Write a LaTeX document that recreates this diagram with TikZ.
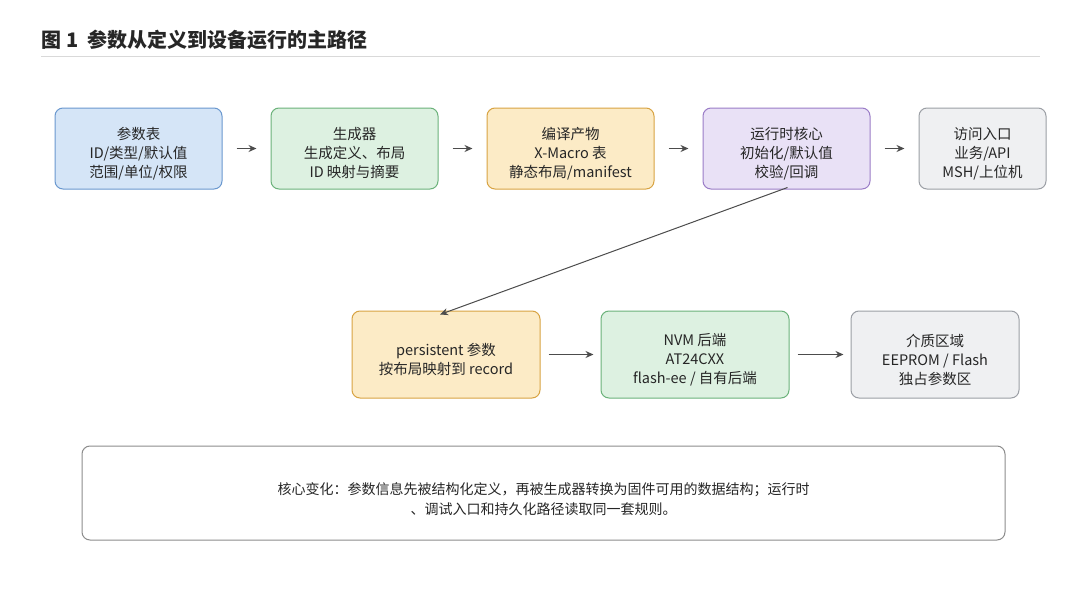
\documentclass[tikz,border=0pt]{standalone}
\usepackage{fontspec}
\setmainfont{Noto Sans CJK SC}
\usetikzlibrary{arrows.meta}
\definecolor{bF}{HTML}{D5E5F7}\definecolor{bD}{HTML}{6A98CF}
\definecolor{gF}{HTML}{DDF1E1}\definecolor{gD}{HTML}{6BB27A}
\definecolor{yF}{HTML}{FCEBC6}\definecolor{yD}{HTML}{D8A342}
\definecolor{pF}{HTML}{E9E1F6}\definecolor{pD}{HTML}{9A7CC7}
\definecolor{kF}{HTML}{EFF0F2}\definecolor{kD}{HTML}{9B9FA5}
\begin{document}
\begin{tikzpicture}[x=1pt,y=-1pt,
 box/.style={draw,rounded corners=8pt,line width=1pt,align=center,font=\fontsize{14.5}{19}\selectfont,text=black!85,inner sep=0pt},
 arr/.style={-{Stealth[length=8pt,width=7pt]},line width=1.1pt,draw=black!70}]
\useasboundingbox (0,0) rectangle (1080,608);
\fill[white] (0,0) rectangle (1080,608);
\node[anchor=west,font=\fontsize{20}{22}\selectfont\bfseries,text=black!85] (title) at (38,40) {图 1\ \ 参数从定义到设备运行的主路径};
\draw[black!15,line width=0.8pt] (41,56) -- (1040,56);
\def\bx#1#2#3#4#5#6#7#8{\node[box,fill=#7,draw=#8,minimum width=#4pt,minimum height=#5pt] (#1) at (#2,#3) {};
\node[align=center,font=\fontsize{14.5}{19}\selectfont,text=black!85] at (#2,#3+5) {#6};}
\bx{a}{138.5}{148.5}{167}{81}{参数表\\ID/类型/默认值\\范围/单位/权限}{bF}{bD}
\bx{b}{354.5}{148.5}{167}{81}{生成器\\生成定义、布局\\ID 映射与摘要}{gF}{gD}
\bx{c}{570.5}{148.5}{167}{81}{编译产物\\X-Macro 表\\静态布局/manifest}{yF}{yD}
\bx{d}{786.5}{148.5}{167}{81}{运行时核心\\初始化/默认值\\校验/回调}{pF}{pD}
\bx{e}{982.5}{148.5}{127}{81}{访问入口\\业务/API\\MSH/上位机}{kF}{kD}
\bx{f}{446}{354.5}{188}{87}{persistent 参数\\按布局映射到 record}{yF}{yD}
\bx{g}{695}{354.5}{188}{87}{NVM 后端\\AT24CXX\\flash-ee / 自有后端}{gF}{gD}
\bx{h}{935}{354.5}{168}{87}{介质区域\\EEPROM / Flash\\独占参数区}{kF}{kD}
\node[draw=black!45,line width=1pt,rounded corners=8pt,minimum width=923pt,minimum height=94pt] (n) at (543.5,493) {};
\node[align=center,font=\fontsize{14}{19.5}\selectfont,text=black!85] at (543.5,499) {核心变化：参数信息先被结构化定义，再被生成器转换为固件可用的数据结构；运行时\\、调试入口和持久化路径读取同一套规则。};
\draw[arr] ([xshift=14pt]a.east) -- ([xshift=-14pt]b.west);
\draw[arr] ([xshift=14pt]b.east) -- ([xshift=-14pt]c.west);
\draw[arr] ([xshift=14pt]c.east) -- ([xshift=-14pt]d.west);
\draw[arr] ([xshift=14pt]d.east) -- ([xshift=-14pt]e.west);
\draw[arr,line width=1pt] ([xshift=1pt,yshift=2pt]d.south) -- ([xshift=-6pt,yshift=-4pt]f.north);
\draw[arr] ([xshift=8pt]f.east) -- ([xshift=-7pt]g.west);
\draw[arr] ([xshift=8pt]g.east) -- ([xshift=-7pt]h.west);
\end{tikzpicture}
\end{document}
